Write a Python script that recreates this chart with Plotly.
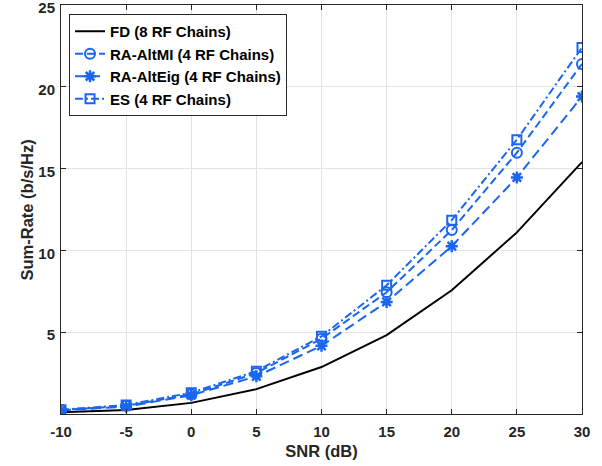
import plotly.graph_objects as go

snr = [-10, -5, 0, 5, 10, 15, 20, 25, 30]
fd = [0.1, 0.25, 0.68, 1.52, 2.87, 4.82, 7.56, 11.1, 15.4]
alt_mi = [0.25, 0.5, 1.2, 2.5, 4.6, 7.44, 11.24, 15.97, 21.4]
alt_eig = [0.22, 0.45, 1.15, 2.3, 4.17, 6.85, 10.26, 14.46, 19.4]
es = [0.26, 0.55, 1.3, 2.62, 4.75, 7.87, 11.85, 16.77, 22.4]
names = ["FD (8 RF Chains)", "RA-AltMI (4 RF Chains)", "RA-AltEig (4 RF Chains)", "ES (4 RF Chains)"]
xticks = [-10, -5, 0, 5, 10, 15, 20, 25, 30]
xticktext = ["-10", "-5", "0", "5", "10", "15", "20", "25", "30"]
yticks = [5, 10, 15, 20, 25]

blue = "#1a66f0"
font_family = "Liberation Sans, Arial, Helvetica"
fig = go.Figure()
fig.add_trace(go.Scatter(x=snr, y=fd, name=names[0], mode="lines",
                         line=dict(color="black", width=2)))
fig.add_trace(go.Scatter(x=snr, y=alt_mi, name=names[1], mode="lines+markers",
                         line=dict(color=blue, width=2, dash="8px,4px"),
                         marker=dict(symbol="circle-open", size=10, color=blue, line=dict(width=2, color=blue))))
fig.add_trace(go.Scatter(x=snr, y=alt_eig, name=names[2], mode="lines+markers",
                         line=dict(color=blue, width=2, dash="10px,5px"),
                         marker=dict(symbol="asterisk-open", size=10, color=blue, line=dict(width=2.5, color=blue))))
fig.add_trace(go.Scatter(x=snr, y=es, name=names[3], mode="lines+markers",
                         line=dict(color=blue, width=2, dash="8px,3px,2px,3px"),
                         marker=dict(symbol="square-open", size=9, color=blue, line=dict(width=2, color=blue))))

axis_common = dict(showgrid=True, gridcolor="#e3e3e3", gridwidth=1, zeroline=False,
                   showline=True, linecolor="#262626", linewidth=1, mirror="ticks",
                   ticks="inside", ticklen=5, tickcolor="#262626", ticklabeloverflow="allow",
                   tickfont=dict(family=font_family, size=15, color="#262626", weight="bold"))
title_font = dict(family=font_family, size=16.5, color="#262626", weight="bold")
fig.update_xaxes(range=[-10, 30], tickvals=xticks, ticktext=xticktext, ticklabelstandoff=4,
                 title=dict(text="SNR (dB)", font=title_font, standoff=6),
                 **axis_common)
fig.update_yaxes(range=[0, 25], tickvals=yticks, ticklabelshift=3, ticklabelstandoff=2,
                 **axis_common)
fig.add_annotation(text="Sum-Rate (b/s/Hz)", textangle=-90, xref="paper", yref="paper",
                   x=-0.0653, y=0.5, xanchor="center", yanchor="middle", showarrow=False,
                   font=title_font)
fig.update_layout(width=602, height=466, margin=dict(l=61, r=20, t=5, b=52, autoexpand=False),
                  plot_bgcolor="white", paper_bgcolor="white",
                  showlegend=True,
                  legend=dict(x=0.0154, y=0.978, xanchor="left", yanchor="top",
                              bgcolor="white", bordercolor="#262626", borderwidth=1,
                              font=dict(family=font_family, size=15, color="black", weight="bold"),
                              tracegroupgap=0, itemwidth=30))
fig.write_html("out.html", config={"displayModeBar": False},
               post_script="document.body.style.margin='0';")
